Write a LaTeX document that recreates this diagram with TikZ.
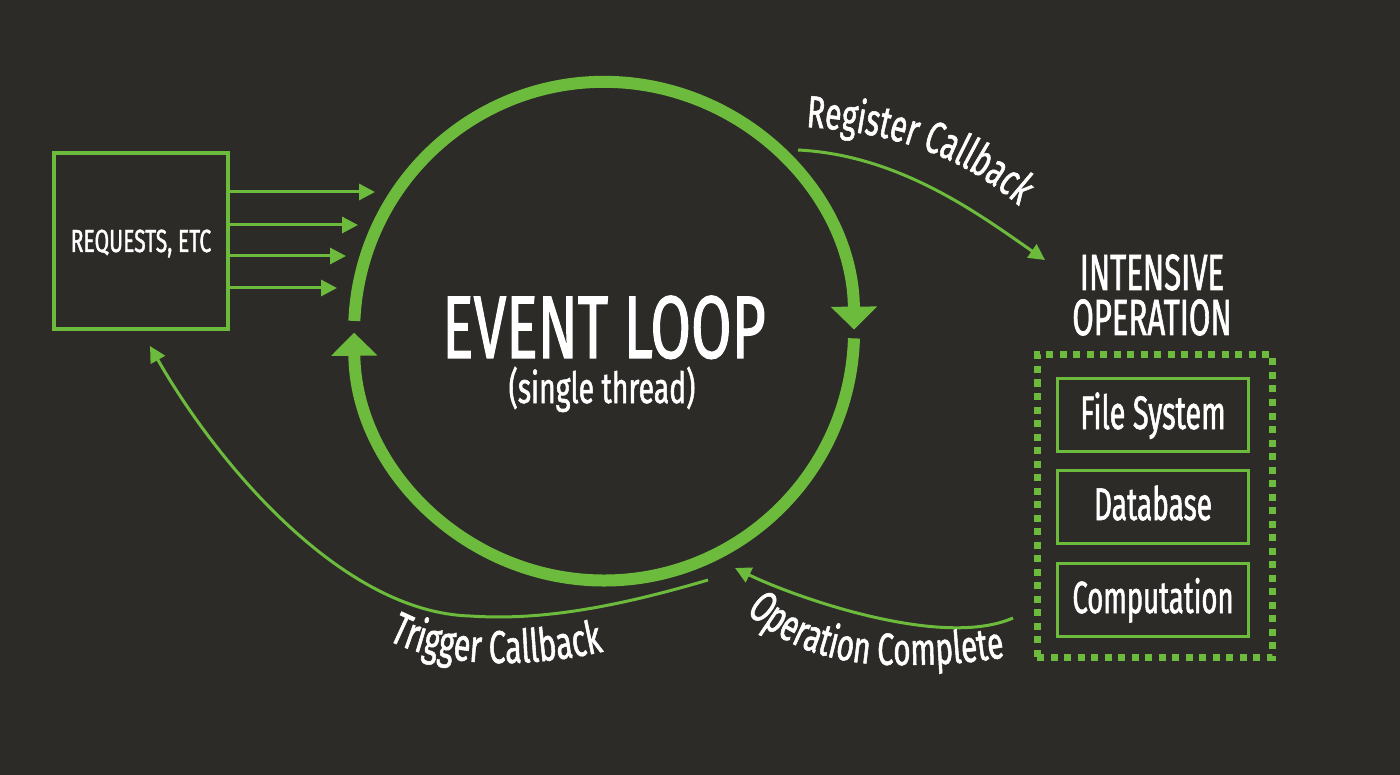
\documentclass[tikz,border=0pt]{standalone}
\usepackage{fontspec}
\setmainfont[FakeStretch=0.66,FakeBold=1.2]{Fira Sans}
\newfontfamily\narrowfont[FakeStretch=0.61,FakeBold=1.2]{Fira Sans}
\usetikzlibrary{arrows.meta,decorations.text}
\definecolor{bg}{HTML}{2C2B27}
\definecolor{grn}{HTML}{6DBB3C}
\begin{document}
\begin{tikzpicture}[x=1pt,y=1pt,
  gbox/.style={draw=grn, line width=3.5pt, inner sep=0pt, outer sep=0pt},
  txt/.style={text=white, inner sep=0pt, outer sep=0pt},
  thinarrow/.style={draw=grn, line width=3pt, -{Triangle[length=16pt,width=16pt]}},
  loopline/.style={draw=grn, line width=12pt, -{Triangle[length=23pt,width=45pt]}},
  curvetext/.style={decorate, decoration={text along path, text color=white, text align=left}}
]
\useasboundingbox[fill=bg] (0,0) rectangle (1400,-775);

% requests box
\node[gbox, minimum width=174pt, minimum height=176pt] (req) at (141,-241) {};
\node[txt, anchor=base] (reqt) at (141,-252) {\fontsize{32}{32}\selectfont REQUESTS, ETC};
\coordinate (a1) at (375,-192);
\coordinate (a2) at (358,-225);
\coordinate (a3) at (346,-256);
\coordinate (a4) at (337,-288);
\foreach \t in {a1,a2,a3,a4}{\draw[thinarrow] (req.east |- \t) -- (\t);}

% event loop circle
\node[circle, minimum size=500pt, inner sep=0pt, outer sep=0pt] (loop) at (604,-334) {};
\draw[loopline] (loop.177.5) arc[start angle=177.5, end angle=0.5, radius=250pt];
\draw[loopline] (loop.-1.8) arc[start angle=-1.8, end angle=-179.5, radius=250pt];
\node[txt, anchor=base] (evt) at (604,-358) {\fontsize{89}{89}\selectfont EVENT LOOP};
\node[txt, anchor=base] (thr) at (602,-403) {\fontsize{43}{43}\selectfont (single thread)};

% intensive operation
\node[txt, anchor=base] (int1) at (1152,-290) {\narrowfont\fontsize{51}{51}\selectfont INTENSIVE};
\node[txt, anchor=base] (int2) at (1152,-335) {\narrowfont\fontsize{51}{51}\selectfont OPERATION};
\node[draw=grn, line width=7pt, dash pattern=on 7pt off 6.5pt, minimum width=235pt, minimum height=302pt, inner sep=0pt] (ops) at (1154.5,-506) {};
\node[gbox, line width=3pt, minimum width=191pt, minimum height=73pt] (fs) at (1153,-415) {};
\node[gbox, line width=3pt, minimum width=191pt, minimum height=73pt] (db) at (1153,-506.5) {};
\node[gbox, line width=3pt, minimum width=191pt, minimum height=73pt] (cp) at (1153,-599.5) {};
\node[txt, anchor=base] at (1153,-429) {\narrowfont\fontsize{47}{47}\selectfont File System};
\node[txt, anchor=base] at (1153,-520) {\narrowfont\fontsize{46}{46}\selectfont Database};
\node[txt, anchor=base] at (1153,-613) {\narrowfont\fontsize{45}{45}\selectfont Computation};

% register callback
\coordinate (rc1) at (798,-150);
\coordinate (rc2) at (1045,-260);
\draw[thinarrow] (rc1) .. controls (900,-155) and (980,-215) .. (rc2);
\path[curvetext, decoration={text={|\fontsize{45}{45}\selectfont|Register Callback}}]
  (806,-127) .. controls (900,-133) and (990,-160) .. (1060,-250);

% operation complete
\coordinate (oc1) at (1013,-618);
\coordinate (oc2) at (735,-568);
\draw[thinarrow] (oc1) .. controls (940,-650) and (790,-595) .. (oc2);
\path[curvetext, decoration={text={|\fontsize{45}{45}\selectfont|Operation Complete}}]
  (746,-612) .. controls (790,-652) and (840,-665) .. (900,-665) .. controls (950,-665) and (995,-662) .. (1060,-646);

% trigger callback
\coordinate (tc1) at (708,-580);
\coordinate (tc2) at (150,-346);
\draw[thinarrow] (tc1) .. controls (600,-612) and (530,-620) .. (470,-616) .. controls (340,-612) and (215,-460) .. (tc2);
\path[curvetext, decoration={text={|\fontsize{46}{46}\selectfont|Trigger Callback}}]
  (388,-640) .. controls (440,-668) and (550,-676) .. (670,-632);
\end{tikzpicture}
\end{document}
